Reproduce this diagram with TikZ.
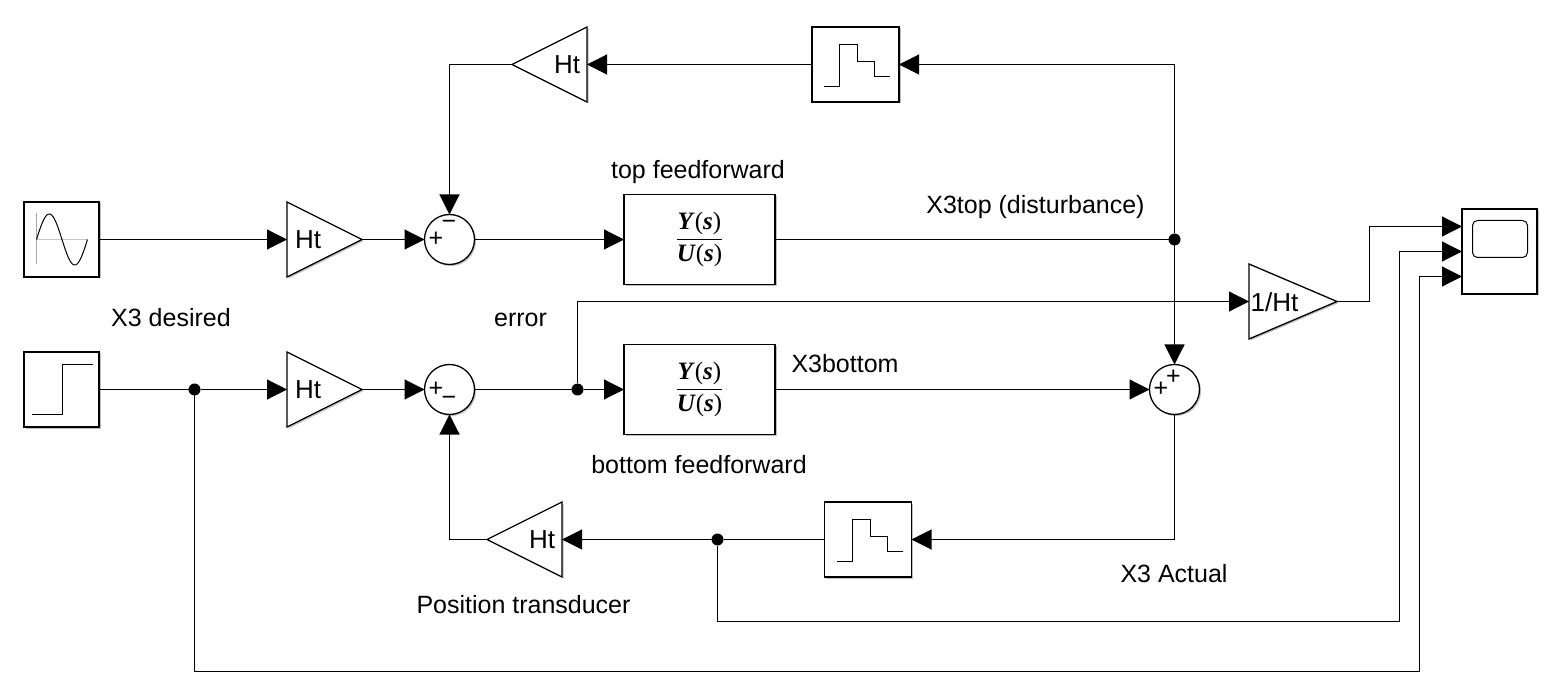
\documentclass[tikz,border=0pt]{standalone}
\usepackage{fontspec}
\setmainfont{Liberation Sans}
\newfontfamily\tfserif{Liberation Serif}
\usetikzlibrary{arrows.meta,shapes.geometric,shadows,calc}
\tikzset{
  blockshadow/.style={drop shadow={shadow xshift=1.5pt,shadow yshift=-1.5pt,fill=black,opacity=.25}},
  blockbox/.style={draw=black,fill=white,line width=1.5pt,rectangle,inner sep=0pt,outer sep=0pt,blockshadow},
  gainr/.style={draw=black,fill=white,line width=1.3pt,isosceles triangle,isosceles triangle stretches,inner sep=0pt,outer sep=0pt,minimum width=75pt,blockshadow},
  gainl/.style={gainr,shape border rotate=180},
  sumc/.style={draw=black,fill=white,line width=1.3pt,circle,minimum size=50pt,inner sep=0pt,outer sep=0pt,blockshadow},
  dotj/.style={circle,fill=black,minimum size=12pt,inner sep=0pt,outer sep=0pt},
  wire/.style={line width=1.1pt,draw=black},
  sig/.style={wire,-{Triangle[length=20pt,width=20pt]}},
  lab/.style={font=\fontsize{25}{29}\selectfont,inner sep=0pt,anchor=base},
  gaintxt/.style={font=\fontsize{26}{30}\selectfont,inner sep=0pt,anchor=center},
  signtxt/.style={font=\fontsize{25}{29}\selectfont,inner sep=0pt,anchor=center},
  icon/.style={line width=1pt,draw=black},
}
\newcommand{\tfterm}[1]{\hbox{\fontsize{25}{29}\tfserif\selectfont\textbf{\textit{#1}}(\textbf{\textit{s}})}}
\newcommand{\tffrac}{$\displaystyle{\tfterm{Y}\above1.3pt\tfterm{U}}$}
\begin{document}
\begin{tikzpicture}[x=1pt,y=-1pt]
\useasboundingbox[fill=white] (0,0) rectangle (1550,692);

% sources
\node[blockbox,minimum width=75pt,minimum height=75pt] (sine) at (61.5,239.5) {};
\node[blockbox,minimum width=75pt,minimum height=75pt] (stepsrc) at (61.5,389.5) {};
\draw[line width=.8pt,draw=gray!70] (36.5,213) -- (36.5,264);
\draw[line width=.9pt,draw=gray!45] (36.5,239.5) -- (87,239.5);
\draw[icon] plot[domain=0:360,samples=72,smooth] ({36.5+0.141667*\x},{239.5-25.5*sin(\x)});
\draw[icon] (32,414.5) -- (62.5,414.5) -- (62.5,364.5) -- (93,364.5);

% gains
\node[gainr,minimum height=75pt,anchor=lower side] (g1) at (287,239.5) {};
\node[gainr,minimum height=75pt,anchor=lower side] (g2) at (287,389.5) {};
\node[gainr,minimum height=88pt,anchor=lower side] (g3) at (1249,301.5) {};
\node[gainl,minimum height=75pt,anchor=lower side] (gt) at (587,64.5) {};
\node[gainl,minimum height=75pt,anchor=lower side] (gb) at (562,539.5) {};
\node[gaintxt] (g1t) at (308,240) {Ht};
\node[gaintxt] (g2t) at (308,390) {Ht};
\node[gaintxt] (g3t) at (1274.5,302) {1/Ht};
\node[gaintxt] (gtt) at (567,65) {Ht};
\node[gaintxt] (gbt) at (542,540) {Ht};

% sums
\node[sumc] (s1) at (449.5,239.5) {};
\node[sumc] (s2) at (449.5,389.5) {};
\node[sumc] (s3) at (1174.5,389.5) {};
\node[signtxt] (s1a) at (436,239) {+};
\node[signtxt] (s1b) at (449,225) {−};
\node[signtxt] (s2a) at (436,389) {+};
\node[signtxt] (s2b) at (449,401) {−};
\node[signtxt] (s3a) at (1161,389) {+};
\node[signtxt] (s3b) at (1173.5,377) {+};

% transfer functions
\node[blockbox,minimum width=151pt,minimum height=90pt] (tf1) at (699.5,239.5) {\tffrac};
\node[blockbox,minimum width=151pt,minimum height=90pt] (tf2) at (699.5,389.5) {\tffrac};

% zero-order holds
\node[blockbox,minimum width=87pt,minimum height=75pt] (zt) at (855.5,64.5) {};
\node[blockbox,minimum width=87pt,minimum height=75pt] (zb) at (868,539.5) {};
\draw[icon] (824,86.5) -- (839.5,86.5) -- (839.5,44.5) -- (857.5,44.5) -- (857.5,61.5) -- (874.5,61.5) -- (874.5,76.5) -- (890,76.5);
\draw[icon] (837,561.5) -- (852.5,561.5) -- (852.5,519.5) -- (870.5,519.5) -- (870.5,536.5) -- (887.5,536.5) -- (887.5,551.5) -- (902.5,551.5);

% scope
\node[blockbox,minimum width=75pt,minimum height=85pt] (scope) at (1499.5,251.5) {};
\draw[line width=1pt,draw=black,rounded corners=5pt] (1472.5,220.5) rectangle (1527.5,257.5);

% junctions and ports
\node[dotj] (j1) at (194.5,389.5) {};
\node[dotj] (j2) at (577.5,389.5) {};
\node[dotj] (j3) at (1174.5,239.5) {};
\node[dotj] (j4) at (717.5,539.5) {};
\coordinate (p1) at (1462,226.5);
\coordinate (p2) at (1462,251.5);
\coordinate (p3) at (1462,276.5);
\coordinate (bendg) at (1369.5,301.5);
\coordinate (bendd) at (717.5,621.5);
\coordinate (bendd2) at (1399.5,621.5);
\coordinate (bends) at (194.5,671.5);
\coordinate (bends2) at (1419.5,671.5);

% connectors
\draw[sig] (sine.east) -- (g1.lower side);
\draw[sig] (g1.apex) -- (s1.west);
\draw[sig] (s1.east) -- (tf1.west);
\draw[wire] (tf1.east) -- (j3);
\draw[sig] (j3) |- (zt.east);
\draw[sig] (zt.west) -- (gt.lower side);
\draw[sig] (gt.apex) -| (s1.north);
\draw[wire] (stepsrc.east) -- (j1);
\draw[sig] (j1) -- (g2.lower side);
\draw[sig] (g2.apex) -- (s2.west);
\draw[wire] (s2.east) -- (j2);
\draw[sig] (j2) -- (tf2.west);
\draw[sig] (tf2.east) -- (s3.west);
\draw[sig] (j3) -- (s3.north);
\draw[sig] (s3.south) |- (zb.east);
\draw[wire] (zb.west) -- (j4);
\draw[sig] (j4) -- (gb.lower side);
\draw[sig] (gb.apex) -| (s2.south);
\draw[sig] (j2) |- (g3.lower side);
\draw[sig] (g3.apex) -- (bendg) |- (p1);
\draw[sig] (j4) -- (bendd) -- (bendd2) |- (p2);
\draw[sig] (j1) -- (bends) -- (bends2) |- (p3);

% labels
\node[lab] (l1) at (698,179) {top feedforward};
\node[lab] (l2) at (1035.5,214) {X3top (disturbance)};
\node[lab] (l3) at (171,327) {X3 desired};
\node[lab] (l4) at (520.5,327) {error};
\node[lab] (l5) at (845,373) {X3bottom};
\node[lab] (l6) at (699,473) {bottom feedforward};
\node[lab] (l7) at (523.5,613) {Position transducer};
\node[lab] (l8) at (1174,582) {X3 Actual};
\end{tikzpicture}
\end{document}
